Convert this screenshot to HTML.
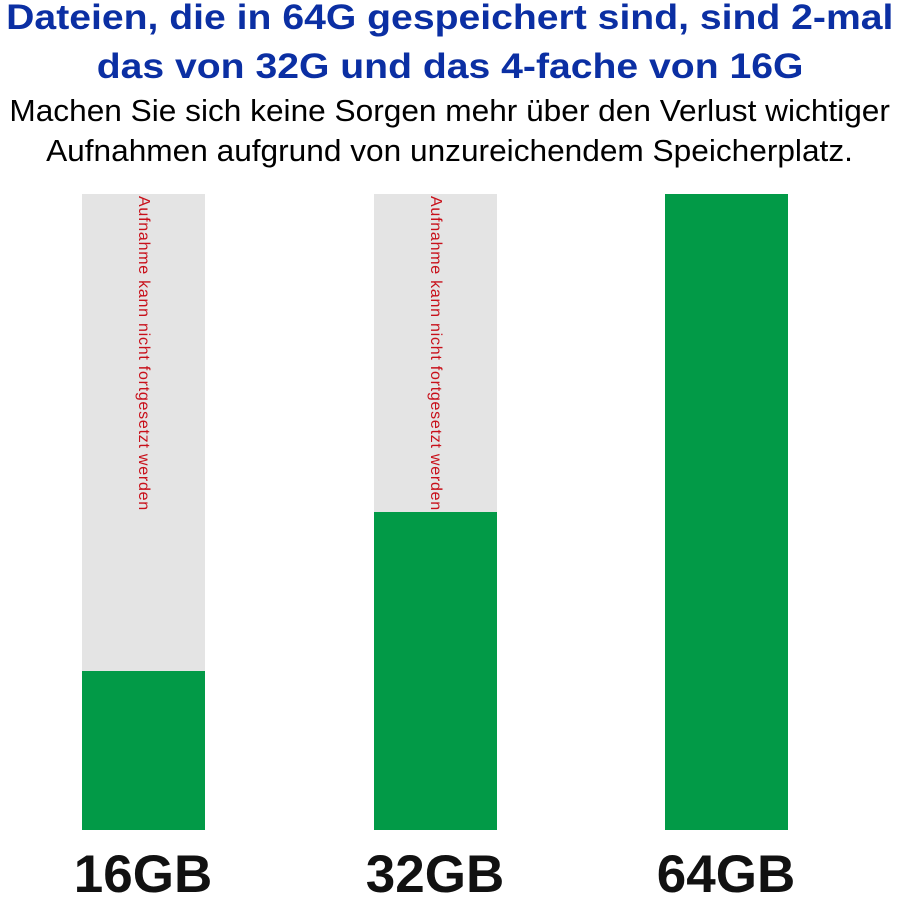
<!DOCTYPE html>
<html><head><meta charset="utf-8"><style>
body{margin:0;width:900px;height:896px;background:#fff;position:relative;overflow:hidden;font-family:"Liberation Sans",Arial,sans-serif}
.t{position:absolute;left:0;width:900px;text-align:center;white-space:nowrap}
.t span{display:inline-block}
.h{color:#0b2fa3;font-weight:bold;font-size:35px}
.h span{transform:scaleX(1.118)}
.s{color:#000;font-size:31px}
.s span{transform:scaleX(1.02)}
.bar{position:absolute;width:123px;background:#e4e4e4}
.g{position:absolute;left:0;bottom:0;width:100%;background:#029a47}
.r{position:absolute;left:52px;top:2px;transform-origin:0 0;transform:translateX(18px) rotate(90deg);color:#c8101a;font-size:16px;letter-spacing:0.75px;white-space:nowrap}
.l{position:absolute;top:844px;width:200px;text-align:center;font-weight:bold;font-size:53px;color:#111}
</style></head><body>
<div class="t h" style="top:-2px"><span>Dateien, die in 64G gespeichert sind, sind 2-mal</span></div>
<div class="t h" style="top:47px"><span>das von 32G und das 4-fache von 16G</span></div>
<div class="t s" style="top:93px"><span>Machen Sie sich keine Sorgen mehr über den Verlust wichtiger</span></div>
<div class="t s" style="top:133px"><span>Aufnahmen aufgrund von unzureichendem Speicherplatz.</span></div>
<div class="bar" style="left:82px;top:194px;height:636px"><div class="r">Aufnahme kann nicht fortgesetzt werden</div><div class="g" style="height:159px"></div></div>
<div class="bar" style="left:374px;top:194px;height:636px"><div class="r">Aufnahme kann nicht fortgesetzt werden</div><div class="g" style="height:318px"></div></div>
<div class="bar" style="left:665px;top:194px;height:636px"><div class="g" style="height:636px"></div></div>
<div class="l" style="left:43px">16GB</div>
<div class="l" style="left:335px">32GB</div>
<div class="l" style="left:626px">64GB</div>
</body></html>
